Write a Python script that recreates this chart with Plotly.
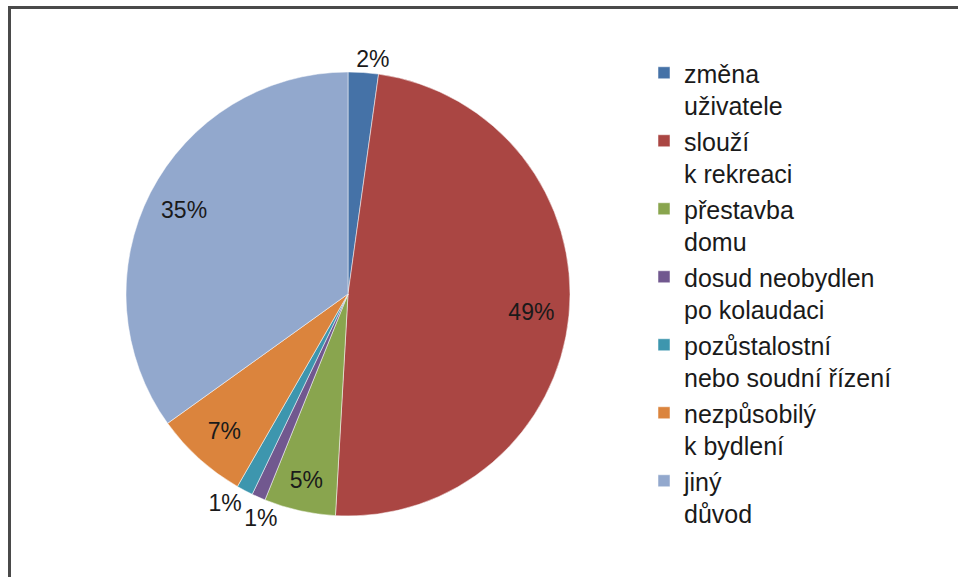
import plotly.graph_objects as go

categories = [
    "změna<br>uživatele",
    "slouží<br>k rekreaci",
    "přestavba<br>domu",
    "dosud neobydlen<br>po kolaudaci",
    "pozůstalostní<br>nebo soudní řízení",
    "nezpůsobilý<br>k bydlení",
    "jiný<br>důvod",
]
shares = [2.2, 48.7, 5.2, 1.0, 1.2, 6.8, 34.9]
colors = ["#4572A7", "#AA4643", "#89A54E", "#71588F", "#3D96AE", "#DB843D", "#92A8CD"]

W, H = 958, 577
cx, cy, r = 348, 294, 222
dom = dict(x=[(cx - r) / W, (cx + r) / W], y=[1 - (cy + r) / H, 1 - (cy - r) / H])
FONT = "Liberation Sans, Arial"
clear = ["rgba(0,0,0,0)"] * len(shares)

# label layers: (text positions per slice, small angular nudge of the layer)
label_layers = [
    (["none", "inside", "inside", "none", "none", "inside", "inside"], 0),
    (["outside", "none", "none", "none", "none", "none", "none"], -3.5),
    (["none", "none", "none", "outside", "none", "none", "none"], -7),
    (["none", "none", "none", "none", "outside", "none", "none"], -1),
]

fig = go.Figure()
# visible slices
fig.add_trace(go.Pie(
    labels=categories, values=shares, sort=False, direction="clockwise", rotation=0,
    marker=dict(colors=colors, line=dict(color="white", width=0.5)),
    textinfo="none", domain=dom, hoverinfo="label+percent",
))
# transparent rings carrying the percentage labels (places them near the rim)
for pos, rot in label_layers:
    fig.add_trace(go.Pie(
        labels=categories, values=shares, sort=False, direction="clockwise", rotation=rot,
        hole=0.66,
        marker=dict(colors=clear, line=dict(width=0)),
        texttemplate="%{percent:.0%}", textposition=pos,
        insidetextorientation="horizontal",
        textfont=dict(family=FONT, size=23, color="#1a1a1a"),
        domain=dom, showlegend=False, hoverinfo="skip",
    ))

fig.update_layout(
    width=W, height=H,
    margin=dict(l=0, r=0, t=0, b=0),
    paper_bgcolor="white",
    font=dict(family=FONT, size=25, color="#1a1a1a"),
    legend=dict(
        x=644 / W, y=1 - 50 / H, xanchor="left", yanchor="top",
        valign="top", bgcolor="rgba(0,0,0,0)",
        font=dict(size=25, color="#1a1a1a"),
        itemwidth=30,
    ),
    shapes=[dict(
        type="rect", xref="paper", yref="paper",
        x0=9.5 / W, x1=1.02, y0=-0.02, y1=1 - 7.5 / H,
        line=dict(color="#4a4a4a", width=3),
    )],
)

fig.write_html(
    "out.html",
    config={"displayModeBar": False},
    post_script="document.body.style.margin='0';document.body.style.overflow='hidden';",
)
